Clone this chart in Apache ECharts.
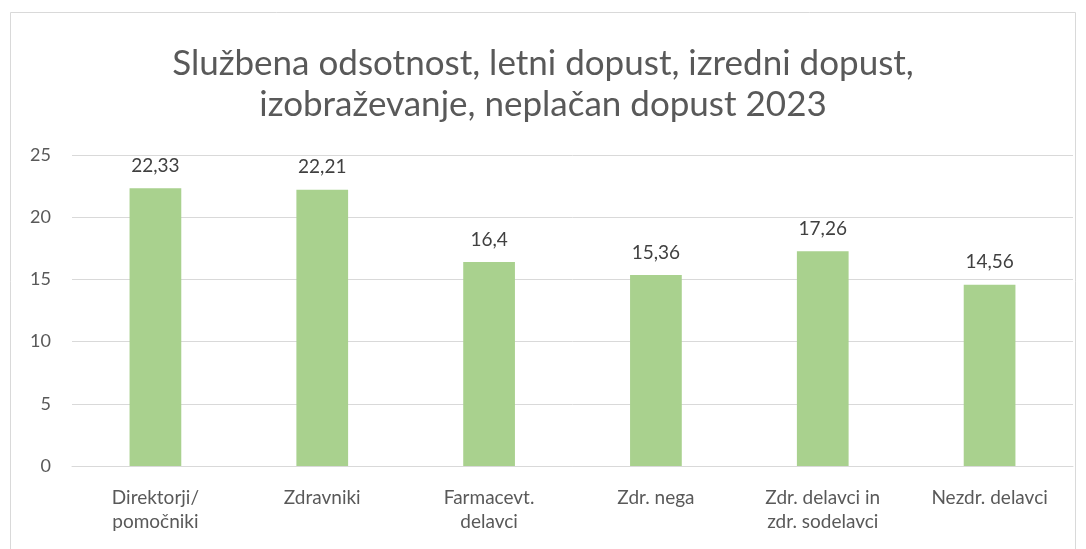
<!DOCTYPE html>
<html><head><meta charset="utf-8">
<script src="https://cdn.jsdelivr.net/npm/echarts@6/dist/echarts.min.js"></script>
<style>html,body{margin:0;padding:0;background:#fff}#c{width:1086px;height:549px}</style>
</head><body><div id="c"></div>
<script>
const titleText = "Službena odsotnost, letni dopust, izredni dopust,\nizobraževanje, neplačan dopust 2023";
const categories = ["Direktorji/\npomočniki", "Zdravniki", "Farmacevt.\ndelavci", "Zdr. nega", "Zdr. delavci in\nzdr. sodelavci", "Nezdr. delavci"];
const values = [22.33, 22.21, 16.4, 15.36, 17.26, 14.56];
const yTicks = [0, 5, 10, 15, 20, 25];

const chart = echarts.init(document.getElementById('c'), null, {renderer: 'canvas'});
const FONT = 'Lato, "Noto Sans", sans-serif';
chart.setOption({
  animation: false,
  backgroundColor: '#fff',
  textStyle: {fontFamily: FONT},
  graphic: [{
    type: 'rect', shape: {x: 10.5, y: 12.5, width: 1065, height: 560},
    style: {fill: 'none', stroke: '#d9d9d9', lineWidth: 1}, silent: true, z: -1
  }],
  title: {
    text: titleText, left: 'center', top: 38,
    textStyle: {fontFamily: FONT, fontSize: 35, fontWeight: 'normal', color: '#595959', lineHeight: 41}
  },
  grid: {left: 72, right: 13, top: 155, bottom: 83, containLabel: false},
  xAxis: {
    type: 'category', data: categories,
    axisLine: {show: true, lineStyle: {color: '#d9d9d9', width: 1}},
    axisTick: {show: false},
    axisLabel: {color: '#595959', fontSize: 19, fontFamily: FONT, margin: 20, lineHeight: 24, interval: 0}
  },
  yAxis: {
    type: 'value', min: yTicks[0], max: yTicks[yTicks.length - 1], interval: 5,
    axisLine: {show: false}, axisTick: {show: false},
    splitLine: {lineStyle: {color: '#d9d9d9', width: 1}},
    axisLabel: {color: '#595959', fontSize: 18, fontFamily: FONT, margin: 21}
  },
  series: [{
    type: 'bar', data: values, barWidth: '31%',
    itemStyle: {color: '#a9d18e'},
    label: {
      show: true, position: 'top', distance: 13, color: '#404040', fontSize: 19, fontFamily: FONT,
      formatter: p => String(p.value).replace('.', ',')
    }
  }]
});
</script></body></html>
